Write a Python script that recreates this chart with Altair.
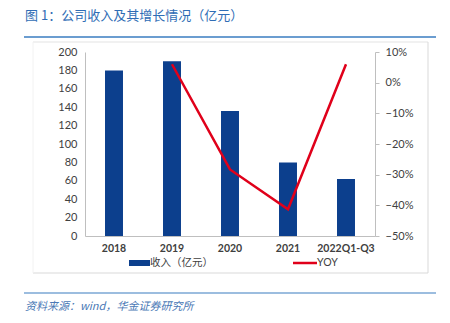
import altair as alt
import pandas as pd

categories = ["2018", "2019", "2020", "2021", "2022Q1-Q3"]
revenue = [180, 190, 136, 80, 62]
yoy_cats = ["2019", "2020", "2021", "2022Q1-Q3"]
yoy = [0.06, -0.283, -0.413, 0.06]
left_ticks = list(range(0, 201, 20))
right_ticks = [0.1, 0.0, -0.1, -0.2, -0.3, -0.4, -0.5]

title_text = "图 1：公司收入及其增长情况（亿元）"
source_text = "资料来源：wind，华金证券研究所"
legend_bar = "收入（亿元）"
legend_line = "YOY"

df_bar = pd.DataFrame({"cat": categories, "rev": revenue})
df_line = pd.DataFrame({"cat": yoy_cats, "yoy": yoy})
one = alt.Data(values=[{"a": 1}])

NUM_FONT = "Lato"
CJK = "Noto Sans CJK SC"

xenc = alt.X("cat:N", sort=categories,
             scale=alt.Scale(domain=categories, paddingInner=0.69, paddingOuter=0.345),
             axis=alt.Axis(title=None, labelAngle=0, ticks=False, domainColor="#bfbfbf",
                           labelFont=NUM_FONT, labelFontSize=10.5, labelFontWeight="bold",
                           labelColor="#404040", labelPadding=7))

bars = alt.Chart(df_bar).mark_bar(color="#0c3f8d").encode(
    x=xenc,
    y=alt.Y("rev:Q", scale=alt.Scale(domain=[0, 200], nice=False),
            axis=alt.Axis(title=None, orient="left", values=left_ticks, grid=False,
                          ticks=False, domainColor="#bfbfbf", labelFont=NUM_FONT,
                          labelFontSize=11, labelColor="#404040", labelPadding=8)),
)

line = alt.Chart(df_line).mark_line(color="#e0001a", strokeWidth=2.5).encode(
    x=alt.X("cat:N", sort=categories, scale=alt.Scale(domain=categories)),
    y=alt.Y("yoy:Q", scale=alt.Scale(domain=[-0.5, 0.1], nice=False),
            axis=alt.Axis(title=None, orient="right", values=right_ticks, format=".0%",
                          grid=False, ticks=True, tickSize=4, tickColor="#bfbfbf",
                          domainColor="#bfbfbf", labelFont=NUM_FONT, labelFontSize=11,
                          labelColor="#404040", labelPadding=6)),
)

f_top = alt.Chart(one).mark_rule(color="#e3e3e3").encode(
    x=alt.value(-52), x2=alt.value(343), y=alt.value(-10))
f_right = alt.Chart(one).mark_rule(color="#d9d9d9").encode(
    x=alt.value(343), y=alt.value(-10), y2=alt.value(221))
f_bottom = alt.Chart(one).mark_rule(color="#d9d9d9").encode(
    x=alt.value(-52), x2=alt.value(343), y=alt.value(221))
f_left = alt.Chart(one).mark_rule(color="#f2f2f2").encode(
    x=alt.value(-52), y=alt.value(-10), y2=alt.value(221))

title = alt.Chart(one).mark_text(align="left", baseline="middle", font=CJK, fontSize=13,
                                 color="#2f6db5").encode(
    x=alt.value(-60), y=alt.value(-36), text=alt.value(title_text))
title_rule = alt.Chart(one).mark_rule(color="#3a7cc0", strokeWidth=1.5).encode(
    x=alt.value(-61), x2=alt.value(351), y=alt.value(-15))
foot_rule = alt.Chart(one).mark_rule(color="#3a7cc0", strokeWidth=1.2).encode(
    x=alt.value(-61), x2=alt.value(351), y=alt.value(241))
foot = alt.Chart(one).mark_text(align="left", baseline="middle", font=CJK, fontSize=11,
                                fontStyle="italic", color="#4a78b5").encode(
    x=alt.value(-60), y=alt.value(255), text=alt.value(source_text))

LEG_Y = 211
leg_rect = alt.Chart(one).mark_rect(color="#0c3f8d").encode(
    x=alt.value(44), x2=alt.value(65), y=alt.value(LEG_Y - 3), y2=alt.value(LEG_Y + 3))
leg_rect_t = alt.Chart(one).mark_text(align="left", baseline="middle", font=CJK, fontSize=10.5,
                                      color="#404040").encode(
    x=alt.value(65), y=alt.value(LEG_Y), text=alt.value(legend_bar))
leg_line = alt.Chart(one).mark_rule(color="#e0001a", strokeWidth=2.5).encode(
    x=alt.value(208), x2=alt.value(232), y=alt.value(LEG_Y))
leg_line_t = alt.Chart(one).mark_text(align="left", baseline="middle", font=NUM_FONT,
                                      fontSize=10.5, color="#404040").encode(
    x=alt.value(232), y=alt.value(LEG_Y), text=alt.value(legend_line))

chart = alt.layer(
    bars, line, f_top, f_right, f_bottom, f_left, title, title_rule, foot_rule, foot,
    leg_rect, leg_rect_t, leg_line, leg_line_t
).resolve_scale(y="independent").properties(
    width=290, height=184,
    autosize=alt.AutoSizeParams(type="none"),
    padding={"left": 85, "top": 52, "right": 75, "bottom": 87},
    background="white",
).configure_view(stroke=None)

chart.save("out.html", embed_options={"renderer": "svg", "actions": False})
